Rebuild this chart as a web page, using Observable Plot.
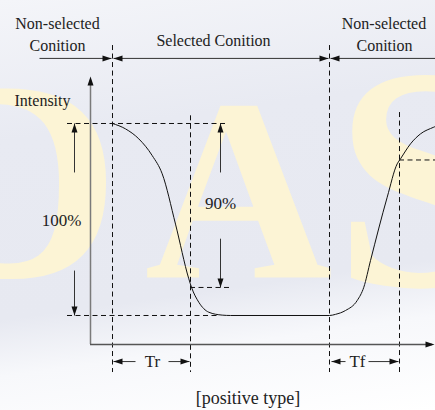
<!DOCTYPE html>
<html><head><meta charset="utf-8">
<script src="https://cdn.jsdelivr.net/npm/d3@7"></script>
<script src="https://cdn.jsdelivr.net/npm/@observablehq/plot@0.6"></script>
<style>
html,body{margin:0;padding:0;}
body{width:435px;height:410px;overflow:hidden;background:linear-gradient(172deg,#f4f5f9 0%,#e8eaf2 30%,#e7e9f1 68%,#f7f8fb 80%,#ffffff 100%);}
</style></head><body><div id="chart"></div>
<script>
// Optical response waveform (time in arbitrary units, intensity in %)
const waveT = [2.2,3.5,4.83,6.17,7.17,8.5,9.83,10.1,10.83,11.83,13.17,14.0,23.9,24.5,25.5,26.67,27.33,28.0,29.67,30.67,31.0,32.0,33.0,34.33,34.5];
const waveI = [100,97.2,92.0,83.3,73.8,47.6,19.1,14.7,6.9,1.7,0.2,0,0,0.6,2.6,7.8,14.7,28.6,61.6,79.0,81.6,89.4,94.6,98.1,98.5];

// Marker times: selected on, end of Tr, selected off, end of Tf
const markT = [2.2, 10.0, 23.9, 30.9];
const markTop = [140.6, 104, 140.6, 105.7];
const markBottom = -29.7;

// Reference levels (dashed)
const levelI = [100, 0, 14.6, 81];
const levelFrom = [-2.3, -2.3, 10.0, 30.9];
const levelTo = [13.6, 12.8, 13.9, 34.5];

// Axes
const axisOriginT = 0, axisOriginI = -15.1, axisTopI = 124.5, axisEndT = 34.5;

// Arrow shafts [t1, i1, t2, i2]
const shaftT1 = [-5.1, 2.3, 24.0, -1.6, -1.6, 13.0, 13.0, 2.3, 7.8, 24.1, 27.8];
const shaftI1 = [133.9, 133.9, 133.9, 100, 23.4, 100, 40, -24, -24, -24, -24];
const shaftT2 = [2.1, 23.8, 34.5, -1.6, -1.6, 13.0, 13.0, 4.5, 9.9, 25.5, 30.8];
const shaftI2 = [133.9, 133.9, 133.9, 74.5, 0, 74.5, 14.6, -24, -24, -24, -24];

// Arrow heads: tip position and direction (degrees, 0 = up)
const headT = [2.1, 2.3, 23.8, 24.0, -1.6, -1.6, 13.0, 13.0, 2.3, 9.9, 24.1, 30.8, 0, 34.4];
const headI = [133.9, 133.9, 133.9, 133.9, 100, 0, 100, 14.6, -24, -24, -24, -24, 124.5, -15.1];
const headDir = [90, -90, 90, -90, 0, 180, 0, 180, -90, 90, -90, 90, 0, 90];

// Labels
const labelText = ["Non-selected","Conition","Selected Conition","Non-selected","Conition","Intensity","100%","90%","Tr","Tf","[positive type]"];
const labelT = [-3.3, -3.3, 12.3, 29.35, 29.4, -4.8, -2.9, 13.0, 6.2, 26.7, 15.75];
const labelI = [152.1, 140.6, 143.2, 152.1, 140.6, 112, 49.5, 58.3, -24, -24, -43.2];
const labelSize = [16, 16, 16, 16, 16, 16, 17, 17, 17, 17, 18];

// Background watermark letters
const wmText = ["D", "A", "S"];
const wmT = [-7.5, 14.8, 33.2];
const wmI = [19.3, 19.8, 15.6];
const wmSize = [290, 260, 318];

const serif = "Liberation Serif, DejaVu Serif, serif";

const wave = waveT.map((t, k) => ({t, i: waveI[k]}));
const marks = markT.map((t, k) => ({t, top: markTop[k], bottom: markBottom}));
const levels = levelI.map((i, k) => ({i, from: levelFrom[k], to: levelTo[k]}));
const shafts = shaftT1.map((t, k) => ({t1: t, i1: shaftI1[k], t2: shaftT2[k], i2: shaftI2[k]}));
const heads = headT.map((t, k) => ({t, i: headI[k], dir: headDir[k]}));
const labels = labelText.map((text, k) => ({text, t: labelT[k], i: labelI[k], size: labelSize[k]}));
const wm = wmText.map((text, k) => ({text, t: wmT[k], i: wmI[k], size: wmSize[k]}));

const arrowHead = {
  draw(ctx) {
    ctx.moveTo(0, 0);
    ctx.lineTo(-3, 9);
    ctx.lineTo(3, 9);
    ctx.closePath();
  }
};

const chartMarks = [];
for (const w of wm) {
  chartMarks.push(Plot.text([w], {x: "t", y: "i", text: "text", fontSize: w.size, fontWeight: "bold",
    fontFamily: serif, fill: "#fcf4d5", lineAnchor: "bottom"}));
}
chartMarks.push(
  Plot.ruleX(marks, {x: "t", y1: "top", y2: "bottom", stroke: "#111", strokeWidth: 1, strokeDasharray: "5,3.5"}),
  Plot.ruleY(levels, {y: "i", x1: "from", x2: "to", stroke: "#111", strokeWidth: 1, strokeDasharray: "5,3.5"}),
  Plot.ruleX([axisOriginT], {y1: axisOriginI, y2: axisTopI - 2, stroke: "#7a7a7a", strokeWidth: 1.5}),
  Plot.ruleY([axisOriginI], {x1: axisOriginT, x2: axisEndT - 0.3, stroke: "#555", strokeWidth: 1.3}),
  Plot.line(wave, {x: "t", y: "i", curve: "monotone-x", stroke: "#111", strokeWidth: 1}),
  Plot.link(shafts, {x1: "t1", y1: "i1", x2: "t2", y2: "i2", stroke: "#333", strokeWidth: 1}),
  Plot.dot(heads, {x: "t", y: "i", rotate: "dir", symbol: arrowHead, fill: "#111", stroke: "none"})
);
for (const l of labels) {
  chartMarks.push(Plot.text([l], {x: "t", y: "i", text: "text", fontSize: l.size, fontFamily: serif, fill: "#222"}));
}

const chart = Plot.plot({
  width: 435, height: 410,
  marginTop: 0, marginRight: 0, marginBottom: 0, marginLeft: 0,
  x: {domain: [-9, 34.5], axis: null},
  y: {domain: [-49.48, 164.06], axis: null},
  style: {background: "transparent", overflow: "visible", fontFamily: serif},
  marks: chartMarks
});
document.getElementById("chart").appendChild(chart);
</script>
</body></html>
